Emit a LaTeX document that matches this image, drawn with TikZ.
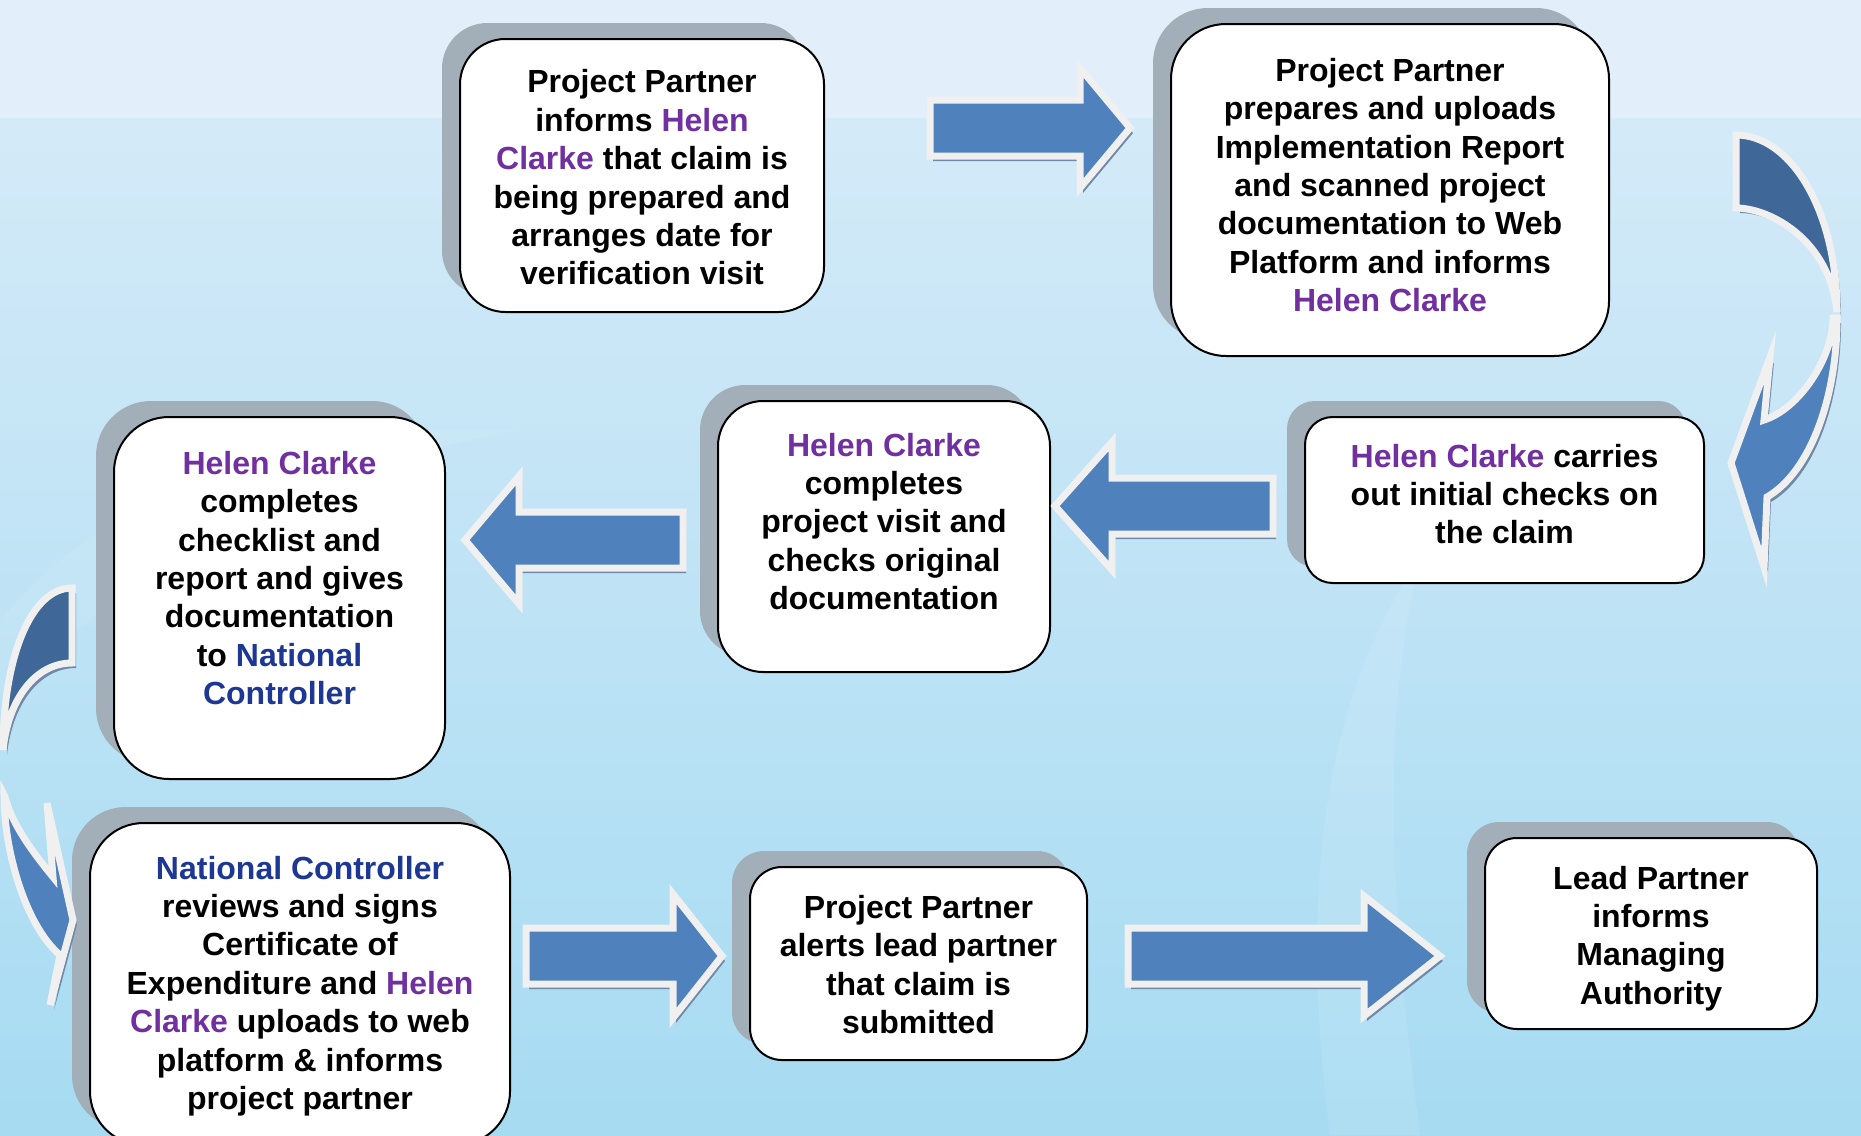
\documentclass[tikz,border=0pt]{standalone}
\usepackage{fontspec}
\setmainfont{Liberation Sans}
\usetikzlibrary{shadows}
\definecolor{bgtop}{HTML}{E2EEF9}
\definecolor{bgmid}{HTML}{D4EAF8}
\definecolor{bgbot}{HTML}{A6DBF2}
\definecolor{boxshadow}{HTML}{A3AFB8}
\definecolor{arrblue}{HTML}{4F81BD}
\definecolor{arrdark}{HTML}{3F6899}
\definecolor{arrline}{HTML}{F0F0F0}
\definecolor{arrshadow}{HTML}{7189A6}
\definecolor{hcpurple}{HTML}{7030A0}
\definecolor{ncblue}{HTML}{1C3794}
\newcommand\hcname[1]{\textcolor{hcpurple}{#1}}
\newcommand\ncname[1]{\textcolor{ncblue}{#1}}
\newcommand\blockarrow[6]{%
  \fill[arrshadow,shift={(3,5)}] (#1,{#4-#5}) -- (#2,{#4-#5}) -- (#2,{#4-#6}) -- (#3,#4) -- (#2,{#4+#6}) -- (#2,{#4+#5}) -- (#1,{#4+#5}) -- cycle;
  \draw[arrowbody] (#1,{#4-#5}) -- (#2,{#4-#5}) -- (#2,{#4-#6}) -- (#3,#4) -- (#2,{#4+#6}) -- (#2,{#4+#5}) -- (#1,{#4+#5}) -- cycle;}
\tikzset{
  box/.style={draw=black, line width=1pt, fill=white, align=center,
    font=\fontsize{16pt}{19.2pt}\selectfont\bfseries, inner sep=0pt,
    general shadow={fill=boxshadow, shadow xshift=-9pt, shadow yshift=8pt}},
  boxtext/.style={align=center, font=\fontsize{16pt}{19.2pt}\selectfont\bfseries, inner sep=0pt},
  arrowbody/.style={fill=arrblue, draw=arrline, line width=3.5pt, line join=miter},
  arrowdark/.style={fill=arrdark, draw=arrline, line width=3.5pt, line join=miter}
}
\begin{document}
\begin{tikzpicture}[x=0.5pt, y=-0.5pt]
\useasboundingbox (0,0) rectangle (1861,1135);
\clip (0,0) rectangle (1861,1135);
% background
\fill[bgtop] (0,0) rectangle (1861,120);
\shade[top color=bgmid, bottom color=bgbot] (0,118) rectangle (1861,1135);
\fill[white, opacity=0.10] (1330,1135) .. controls (1300,900) and (1320,700) .. (1420,560) .. controls (1380,720) and (1390,900) .. (1420,1135) -- cycle;
\fill[white, opacity=0.08] (0,620) .. controls (120,480) and (300,420) .. (520,430) .. controls (300,470) and (140,560) .. (0,700) -- cycle;

% boxes
\node[box, minimum width=182pt, minimum height=136.5pt, rounded corners=22.7pt] (A) at (642,175.5) {};
\node[boxtext] (At) at ([yshift=-1pt]A.center)
  {Project Partner\\ informs \hcname{Helen}\\ \hcname{Clarke} that claim is\\ being prepared and\\ arranges date for\\ verification visit};
\node[box, minimum width=219pt, minimum height=166pt, rounded corners=27.5pt] (B) at (1390,190) {};
\node[boxtext] (Bt) at ([yshift=2.5pt]B.center)
  {Project Partner\\ prepares and uploads\\ Implementation Report\\ and scanned project\\ documentation to Web\\ Platform and informs\\ \hcname{Helen Clarke}};
\node[box, minimum width=199.5pt, minimum height=83pt, rounded corners=13.8pt] (C) at (1504.5,500) {};
\node[boxtext] (Ct) at ([yshift=3pt]C.center)
  {\hcname{Helen Clarke} carries\\ out initial checks on\\ the claim};
\node[box, minimum width=166pt, minimum height=135.5pt, rounded corners=22.6pt] (D) at (884,536.5) {};
\node[boxtext] (Dt) at ([yshift=7.5pt]D.center)
  {\hcname{Helen Clarke}\\ completes\\ project visit and\\ checks original\\ documentation};
\node[box, minimum width=165.5pt, minimum height=181pt, rounded corners=27.5pt] (E) at (279.5,598) {};
\node[boxtext] (Et) at ([yshift=10pt]E.center)
  {\hcname{Helen Clarke}\\ completes\\ checklist and\\ report and gives\\ documentation\\ to \ncname{National}\\ \ncname{Controller}};
\node[box, minimum width=210pt, minimum height=161pt, rounded corners=26.8pt] (F) at (300,984) {};
\node[boxtext] (Ft) at ([yshift=-1pt]F.center)
  {\ncname{National Controller}\\ reviews and signs\\ Certificate of\\ Expenditure and \hcname{Helen}\\ \hcname{Clarke} uploads to web\\ platform \& informs\\ project partner};
\node[box, minimum width=168.5pt, minimum height=96.5pt, rounded corners=16pt] (G) at (918.5,963.5) {};
\node[boxtext] (Gt) at ([yshift=-0.5pt]G.center)
  {Project Partner\\ alerts lead partner\\ that claim is\\ submitted};
\node[box, minimum width=166pt, minimum height=95.5pt, rounded corners=16pt] (H) at (1651,933.5) {};
\node[boxtext] (Ht) at ([yshift=-2.5pt]H.center)
  {Lead Partner\\ informs\\ Managing\\ Authority};

% straight block arrows
\blockarrow{930}{1080}{1130}{128}{28}{60}
\blockarrow{1273}{1112}{1055}{506}{28}{64}
\blockarrow{683}{519}{465}{540}{28}{64}
\blockarrow{526}{673}{722}{956}{28}{62}
\blockarrow{1128}{1364}{1440}{956}{28}{60}

% right curved arrow (B to C)
\begin{scope}[shift={(4,5)}]
\fill[arrshadow] (1837,318) .. controls (1837,398) and (1810,472) .. (1767,497) -- (1764,567) -- (1731,463) -- (1770,357) -- (1764,420) .. controls (1799,409) and (1833,358) .. (1833,318) -- cycle;
\fill[arrshadow] (1736,135) .. controls (1791,135) and (1837,211) .. (1837,312) .. controls (1830,240) and (1770,208) .. (1736,208) -- cycle;
\end{scope}
\draw[arrowdark] (1736,135) .. controls (1791,135) and (1837,211) .. (1837,312) .. controls (1830,240) and (1770,208) .. (1736,208) -- cycle;
\draw[arrowbody] (1837,318) .. controls (1837,398) and (1810,472) .. (1767,497) -- (1764,567) -- (1731,463) -- (1770,357) -- (1764,420) .. controls (1799,409) and (1833,358) .. (1833,318) -- cycle;

% left curved arrow (E to F)
\begin{scope}[shift={(4,5)}]
\fill[arrshadow] (72,588) .. controls (30,588) and (3,660) .. (3,750) .. controls (8,700) and (35,663) .. (72,663) -- cycle;
\fill[arrshadow] (4,795) .. controls (4,850) and (25,925) .. (60,955) -- (50,1005) -- (73,920) -- (47,803) -- (53,877) .. controls (35,855) and (12,825) .. (5,797) -- cycle;
\end{scope}
\draw[arrowdark] (72,588) .. controls (30,588) and (3,660) .. (3,750) .. controls (8,700) and (35,663) .. (72,663) -- cycle;
\draw[arrowbody] (4,795) .. controls (4,850) and (25,925) .. (60,955) -- (50,1005) -- (73,920) -- (47,803) -- (53,877) .. controls (35,855) and (12,825) .. (5,797) -- cycle;
\end{tikzpicture}
\end{document}
